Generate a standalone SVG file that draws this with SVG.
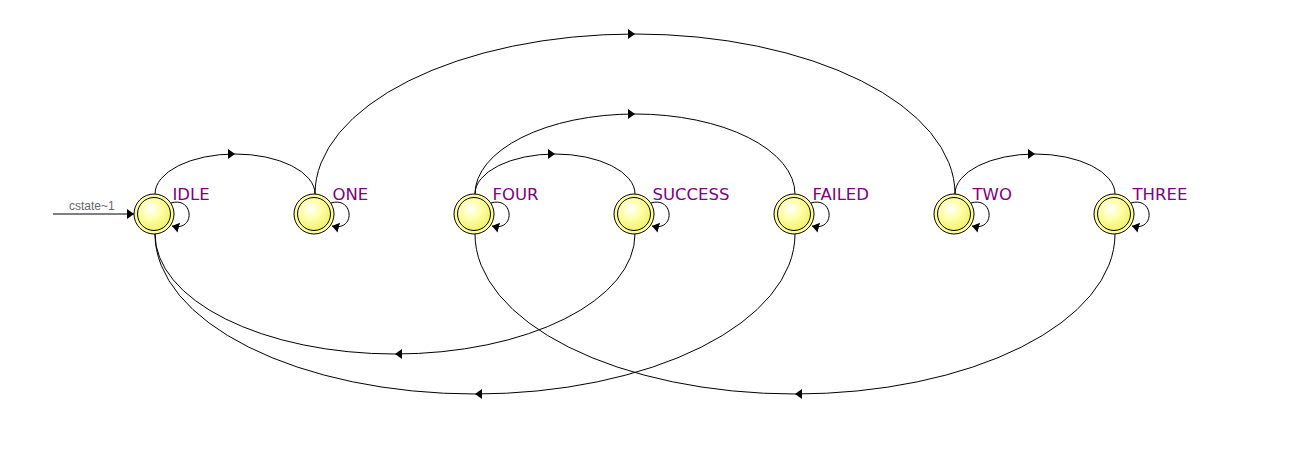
<svg xmlns="http://www.w3.org/2000/svg" width="1299" height="469" viewBox="0 0 1299 469">
<style>
.edge{fill:none;stroke:#000;stroke-width:1}
.ring{fill:#ffff99;stroke:#000;stroke-width:1}
.core{fill:url(#g);stroke:#000;stroke-width:1}
.lbl{font-family:"DejaVu Sans",Verdana,sans-serif;font-size:16.5px;fill:#800080}
.init{font-family:"Liberation Sans",Arial,sans-serif;font-size:12px;fill:#666670}
</style>
<defs>
<radialGradient id="g" cx="0.4" cy="0.35" r="0.7">
<stop offset="0" stop-color="#ffffff"/>
<stop offset="0.45" stop-color="#ffffa8"/>
<stop offset="1" stop-color="#f0f060"/>
</radialGradient>
<marker id="a" markerWidth="9" markerHeight="11" refX="7" refY="5" orient="auto" markerUnits="userSpaceOnUse">
<path d="M0,0 L7,5 L0,10 Z" fill="#000"/>
</marker>
</defs>
<g id="connectors">
<path class="edge" d="M53,214 L134,214" marker-end="url(#a)"/>
<text class="init" x="69" y="210">cstate~1</text>
<path class="edge" d="M155,194 A80,40 0 0 1 235,154 A80,40 0 0 1 315,194" marker-mid="url(#a)"/>
<path class="edge" d="M315,194 A320,160 0 0 1 635,34 A320,160 0 0 1 955,194" marker-mid="url(#a)"/>
<path class="edge" d="M475,194 A80,40 0 0 1 555,154 A80,40 0 0 1 635,194" marker-mid="url(#a)"/>
<path class="edge" d="M475,194 A160,80 0 0 1 635,114 A160,80 0 0 1 795,194" marker-mid="url(#a)"/>
<path class="edge" d="M955,194 A80,40 0 0 1 1035,154 A80,40 0 0 1 1115,194" marker-mid="url(#a)"/>
<path class="edge" d="M635,234 A240,120 0 0 1 395,354 A240,120 0 0 1 155,234" marker-mid="url(#a)"/>
<path class="edge" d="M795,234 A320,160 0 0 1 475,394 A320,160 0 0 1 155,234" marker-mid="url(#a)"/>
<path class="edge" d="M1115,234 A320,160 0 0 1 795,394 A320,160 0 0 1 475,234" marker-mid="url(#a)"/>
<path class="edge" d="M171,203 C194,196 196,232 172,226" marker-end="url(#a)"/>
<path class="edge" d="M331,203 C354,196 356,232 332,226" marker-end="url(#a)"/>
<path class="edge" d="M491,203 C514,196 516,232 492,226" marker-end="url(#a)"/>
<path class="edge" d="M651,203 C674,196 676,232 652,226" marker-end="url(#a)"/>
<path class="edge" d="M811,203 C834,196 836,232 812,226" marker-end="url(#a)"/>
<path class="edge" d="M971,203 C994,196 996,232 972,226" marker-end="url(#a)"/>
<path class="edge" d="M1131,203 C1154,196 1156,232 1132,226" marker-end="url(#a)"/>
</g>
<g id="IDLE"><circle class="ring" cx="154" cy="214" r="20"/><circle class="core" cx="154" cy="214" r="16.5"/><text class="lbl" x="172.5" y="200">IDLE</text></g>
<g id="ONE"><circle class="ring" cx="314" cy="214" r="20"/><circle class="core" cx="314" cy="214" r="16.5"/><text class="lbl" x="332.5" y="200">ONE</text></g>
<g id="FOUR"><circle class="ring" cx="474" cy="214" r="20"/><circle class="core" cx="474" cy="214" r="16.5"/><text class="lbl" x="492.5" y="200">FOUR</text></g>
<g id="SUCCESS"><circle class="ring" cx="634" cy="214" r="20"/><circle class="core" cx="634" cy="214" r="16.5"/><text class="lbl" x="652.5" y="200">SUCCESS</text></g>
<g id="FAILED"><circle class="ring" cx="794" cy="214" r="20"/><circle class="core" cx="794" cy="214" r="16.5"/><text class="lbl" x="812.5" y="200">FAILED</text></g>
<g id="TWO"><circle class="ring" cx="954" cy="214" r="20"/><circle class="core" cx="954" cy="214" r="16.5"/><text class="lbl" x="972.5" y="200">TWO</text></g>
<g id="THREE"><circle class="ring" cx="1114" cy="214" r="20"/><circle class="core" cx="1114" cy="214" r="16.5"/><text class="lbl" x="1132.5" y="200">THREE</text></g>
</svg>
